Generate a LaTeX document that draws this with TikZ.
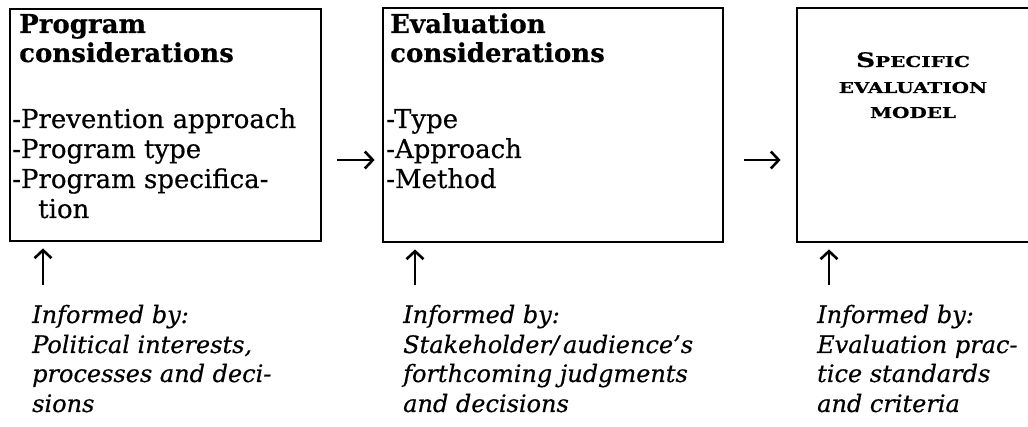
\documentclass[tikz,border=0pt]{standalone}
\usepackage{fontspec}
\usepackage{graphicx}
\setmainfont{DejaVu Serif}[FakeBold=0.4]
\usetikzlibrary{arrows.meta}
\tikzset{
  box/.style={draw, line width=2.8pt, inner sep=0pt},
  arr/.style={line width=2.6pt, -{Straight Barb[length=8pt,width=17pt,line width=2.6pt]}},
  body/.style={anchor=base west, inner sep=0pt, font=\fontsize{26}{30}\selectfont},
  head/.style={anchor=base west, inner sep=0pt, font=\fontsize{26}{30}\selectfont\bfseries},
  note/.style={anchor=base west, inner sep=0pt, font=\fontsize{24}{30}\selectfont\itshape},
  model/.style={anchor=base, inner sep=0pt, font=\bfseries},
}
\newcommand{\bigsc}[2]{\scalebox{1.33}[1]{\fontsize{20}{22}\selectfont #1\fontsize{15}{17}\selectfont #2}}
\begin{document}
\begin{tikzpicture}[x=1pt,y=-1pt]
\clip (0,0) rectangle (1028,427);
\fill[white] (0,0) rectangle (1028,427);
% boxes
\node[box, minimum width=311pt, minimum height=232pt] (b1) at (165.5,125) {};
\node[box, minimum width=340pt, minimum height=234pt] (b2) at (553,125) {};
\node[box, minimum width=240pt, minimum height=234pt] (b3) at (917,125) {};
% box 1 text
\node[head] (h1a) at (19,33) {Program};
\node[head] (h1b) at (19,62) {considerations};
\node[body] (l1a) at (12,128) {-Prevention approach};
\node[body] (l1b) at (12,158) {-Program type};
\node[body] (l1c) at (12,188) {-Program specifica-};
\node[body] (l1d) at (38,218) {tion};
% box 2 text
\node[head] (h2a) at (390,33) {Evaluation};
\node[head] (h2b) at (390,62) {considerations};
\node[body] (l2a) at (386,128) {-Type};
\node[body] (l2b) at (386,158) {-Approach};
\node[body] (l2c) at (386,188) {-Method};
% box 3 text
\node[model] (m1) at (913,67) {\bigsc{S}{PECIFIC}};
\node[model] (m2) at (913,93) {\bigsc{}{EVALUATION}};
\node[model] (m3) at (913,118) {\bigsc{}{MODEL}};
% horizontal arrows
\coordinate (ay) at (0,160);
\draw[arr, shorten <=15pt, shorten >=7pt] (b1.east |- ay) -- (b2.west |- ay);
\draw[arr, shorten <=20pt, shorten >=15pt] (b2.east |- ay) -- (b3.west |- ay);
% vertical arrows
\coordinate (c1) at (43,285);
\coordinate (c2) at (415,285);
\coordinate (c3) at (829,285);
\draw[arr, shorten >=6pt] (c1) -- (c1 |- b1.south);
\draw[arr, shorten >=6pt] (c2) -- (c2 |- b2.south);
\draw[arr, shorten >=6pt] (c3) -- (c3 |- b3.south);
% notes
\node[note] (n1a) at (32,323) {Informed by:};
\node[note] (n1b) at (32,353) {Political interests,};
\node[note] (n1c) at (32,382) {processes and deci-};
\node[note] (n1d) at (32,412) {sions};
\node[note] (n2a) at (403,323) {Informed by:};
\node[note] (n2b) at (403,353) {Stakeholder/\,audience's};
\node[note] (n2c) at (403,382) {forthcoming judgments};
\node[note] (n2d) at (403,412) {and decisions};
\node[note] (n3a) at (817,323) {Informed by:};
\node[note] (n3b) at (817,353) {Evaluation prac-};
\node[note] (n3c) at (817,382) {tice standards};
\node[note] (n3d) at (817,412) {and criteria};
\end{tikzpicture}
\end{document}
